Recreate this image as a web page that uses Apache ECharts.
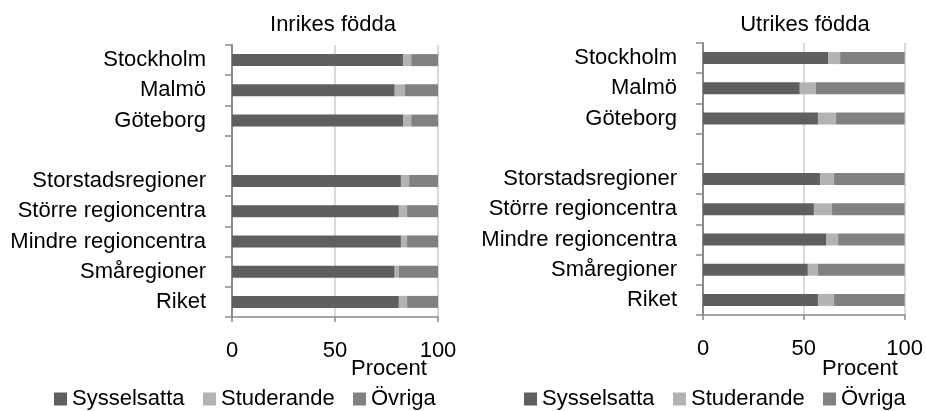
<!DOCTYPE html>
<html>
<head>
<meta charset="utf-8">
<script src="https://cdn.jsdelivr.net/npm/echarts@6/dist/echarts.min.js"></script>
<style>html,body{margin:0;padding:0;background:#fff}#c{width:926px;height:411px}</style>
</head>
<body>
<div id="c"></div>
<script>
const categories = ['Stockholm', 'Malmö', 'Göteborg', '', 'Storstadsregioner', 'Större regioncentra', 'Mindre regioncentra', 'Småregioner', 'Riket'];
const seriesNames = ['Sysselsatta', 'Studerande', 'Övriga'];
const xTicks = [0, 50, 100];
const panelTitles = ['Inrikes födda', 'Utrikes födda'];
const axisName = 'Procent';

const inrikesSyss = [83, 79, 83, null, 82, 81, 82, 79, 81];
const inrikesStud = [4, 5, 4, null, 4, 4, 3, 2, 4];
const inrikesOvr  = [13, 16, 13, null, 14, 15, 15, 19, 15];

const utrikesSyss = [62, 48, 57, null, 58, 55, 61, 52, 57];
const utrikesStud = [6, 8, 9, null, 7, 9, 6, 5, 8];
const utrikesOvr  = [32, 44, 34, null, 35, 36, 33, 43, 35];

const colors = ['#5f5f5f', '#b3b3b3', '#818181'];
const FONT = 'Liberation Sans, Arial, sans-serif';
const FS = 22;
const chart = echarts.init(document.getElementById('c'), null, {renderer: 'canvas'});

function xAxis(i) {
  return {
    type: 'value', gridIndex: i, min: xTicks[0], max: xTicks[xTicks.length - 1], interval: 50,
    axisLine: {show: true, lineStyle: {color: '#8a8a8a', width: 1.5}},
    axisTick: {show: true, length: 5, lineStyle: {color: '#8a8a8a', width: 1.5}},
    splitLine: {show: true, lineStyle: {color: '#d9d9d9', width: 2}},
    axisLabel: {fontFamily: FONT, fontSize: FS, color: '#000', margin: 23}
  };
}
function yAxis(i) {
  return {
    type: 'category', gridIndex: i, data: categories, inverse: true,
    axisLine: {show: true, lineStyle: {color: '#8a8a8a', width: 2}},
    axisTick: {show: true, length: 7, lineStyle: {color: '#8a8a8a', width: 1.5}},
    axisLabel: {fontFamily: FONT, fontSize: FS, color: '#000', margin: 26},
    splitLine: {show: false}
  };
}
const data = [[inrikesSyss, inrikesStud, inrikesOvr], [utrikesSyss, utrikesStud, utrikesOvr]];
const series = [];
data.forEach((panel, p) => {
  panel.forEach((vals, k) => {
    series.push({
      name: seriesNames[k], type: 'bar', stack: 'p' + p, xAxisIndex: p, yAxisIndex: p,
      data: vals, barWidth: 12, itemStyle: {color: colors[k]}, silent: true
    });
  });
});
const legendLefts = [[54, 203, 353], [524, 673, 823]];
const legends = [];
legendLefts.forEach(row => row.forEach((l, k) => {
  legends.push({
    data: [seriesNames[k]], left: l, top: 388, icon: 'rect', itemWidth: 13, itemHeight: 13,
    selectedMode: false, textStyle: {fontFamily: FONT, fontSize: FS, color: '#000'}, padding: 0
  });
}));

chart.setOption({
  animation: false,
  grid: [
    {left: 232, top: 45, width: 206, height: 272},
    {left: 703, top: 43, width: 206, height: 272}
  ],
  xAxis: [xAxis(0), xAxis(1)],
  yAxis: [yAxis(0), yAxis(1)],
  legend: legends,
  series: series,
  graphic: [
    {type: 'text', x: 333, y: 25, style: {text: panelTitles[0], font: FS + 'px ' + FONT, fill: '#000', textAlign: 'center', textVerticalAlign: 'middle'}},
    {type: 'text', x: 805, y: 25, style: {text: panelTitles[1], font: FS + 'px ' + FONT, fill: '#000', textAlign: 'center', textVerticalAlign: 'middle'}},
    {type: 'text', x: 389, y: 369, style: {text: axisName, font: FS + 'px ' + FONT, fill: '#000', textAlign: 'center', textVerticalAlign: 'middle'}},
    {type: 'text', x: 860, y: 369, style: {text: axisName, font: FS + 'px ' + FONT, fill: '#000', textAlign: 'center', textVerticalAlign: 'middle'}}
  ]
});
</script>
</body>
</html>
